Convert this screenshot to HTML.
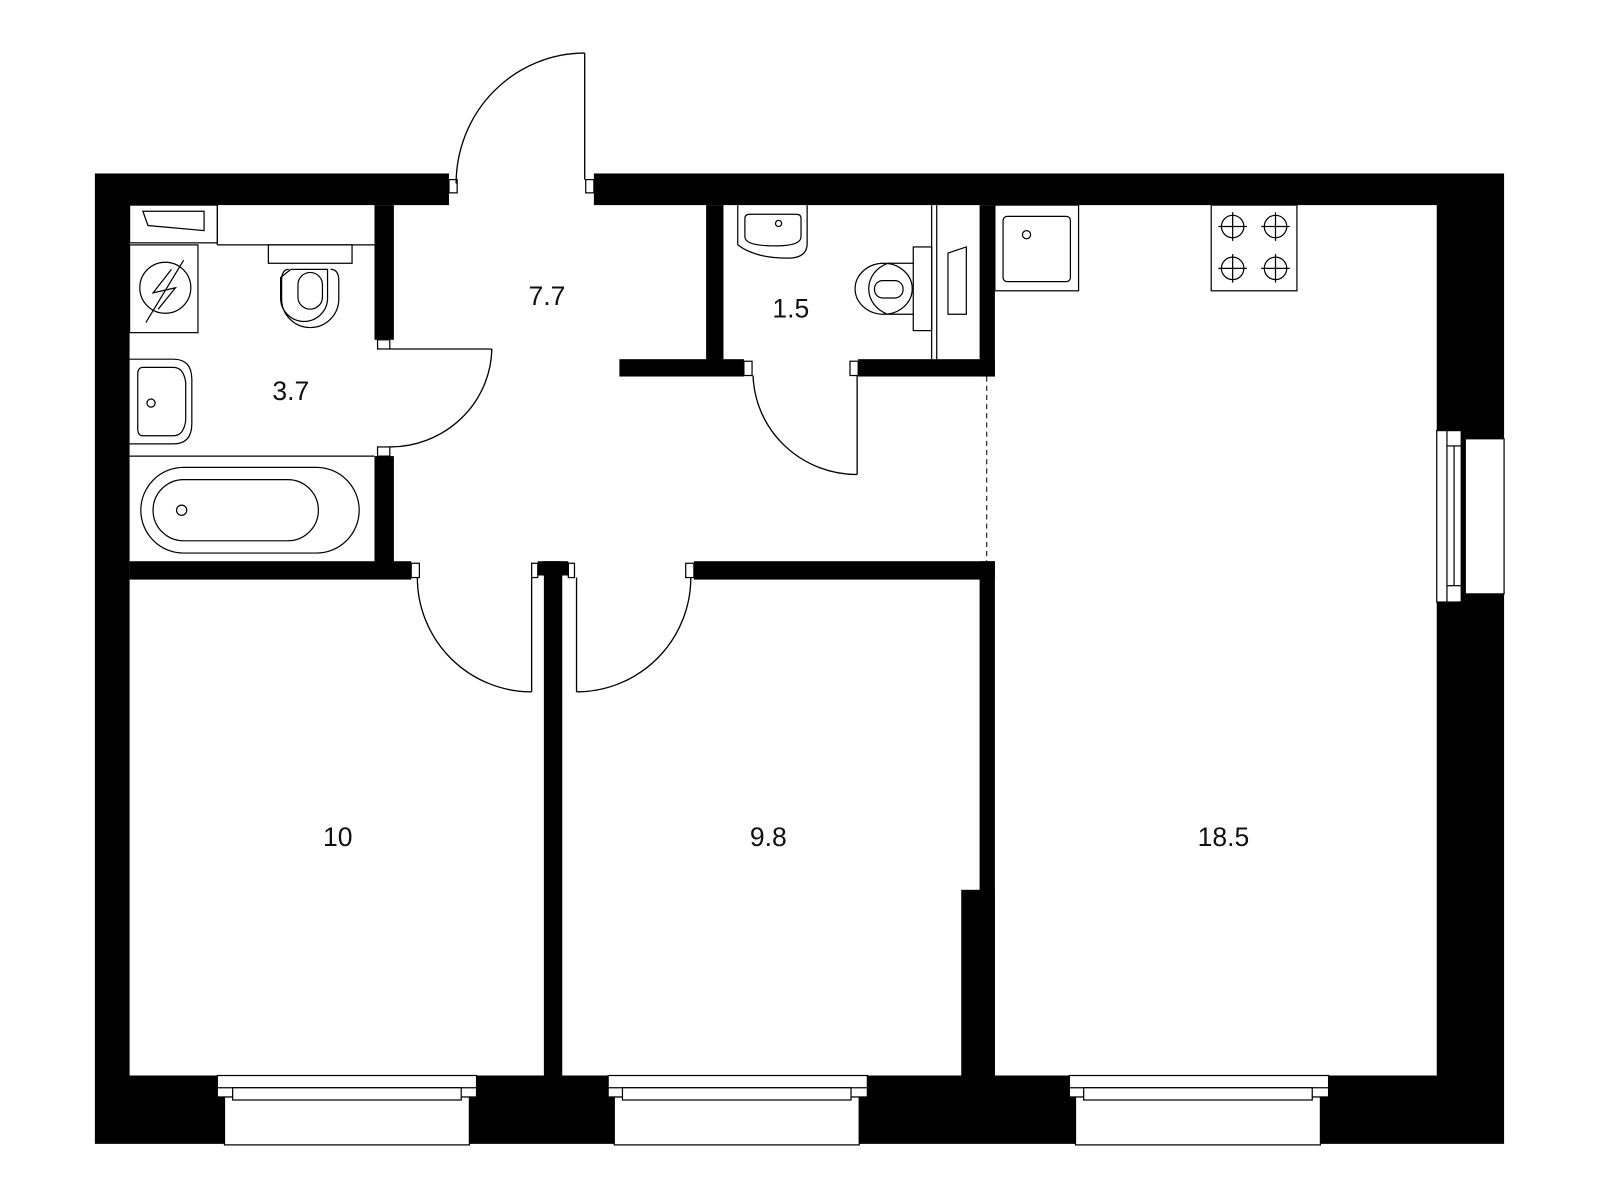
<!DOCTYPE html>
<html><head><meta charset="utf-8"><style>html,body{margin:0;padding:0;background:#fff}svg{display:block}</style></head>
<body>
<svg width="1600" height="1200" viewBox="0 0 1568 1176" xmlns="http://www.w3.org/2000/svg">
<g fill="#000">
<rect x="93" y="170" width="1381" height="951"/>
</g>
<rect x="127" y="201" width="1281" height="853" fill="#fff"/>
<rect x="440" y="168" width="142" height="34" fill="#fff"/>
<g fill="#000">
<rect x="367" y="201" width="19" height="132"/>
<rect x="367" y="447" width="19" height="105"/>
<rect x="127" y="550" width="276" height="18"/>
<rect x="533" y="550" width="18" height="504"/>
<rect x="680" y="550" width="295" height="18"/>
<rect x="960" y="550" width="15" height="504"/>
<rect x="942" y="872" width="33" height="182"/>
<rect x="692" y="201" width="17" height="154"/>
<rect x="607" y="352" width="122" height="17"/>
<rect x="841" y="352" width="134" height="17"/>
<rect x="960" y="201" width="15" height="168"/>
<rect x="527" y="550" width="30" height="14"/>
</g>
<g fill="#fff" stroke="#000" stroke-width="1.2">
<rect x="440" y="176" width="8" height="13"/>
<rect x="574" y="176" width="8" height="13"/>
<rect x="370" y="333" width="12" height="9"/>
<rect x="370" y="438" width="12" height="9"/>
<rect x="403" y="552" width="8" height="14"/>
<rect x="672" y="552" width="8" height="14"/>
<rect x="521" y="552" width="6" height="14"/>
<rect x="557" y="552" width="6" height="14"/>
<rect x="729" y="354" width="8" height="14"/>
<rect x="833" y="354" width="8" height="14"/>
</g>
<g fill="none" stroke="#000" stroke-width="1.3">
<line x1="573" y1="52" x2="573" y2="176"/>
<path d="M573 52 A126 128 0 0 0 447 180"/>
<line x1="382" y1="342" x2="482" y2="342"/>
<path d="M482 342 A100 98 0 0 1 382 438"/>
<line x1="840" y1="368" x2="840" y2="465"/>
<path d="M840 465 A102 100 0 0 1 738 368"/>
<line x1="521" y1="566" x2="521" y2="678"/>
<path d="M521 678 A112 112 0 0 1 409 566"/>
<line x1="565" y1="566" x2="565" y2="678"/>
<path d="M565 678 A112 112 0 0 0 677 566"/>
<line x1="967" y1="369" x2="967" y2="550" stroke-dasharray="5 4" stroke-width="1"/>
</g>
<g fill="#fff" stroke="#000" stroke-width="1.2">
<rect x="213" y="1054" width="254" height="21"/>
<rect x="220" y="1075" width="240" height="47"/>
<rect x="213" y="1066" width="254" height="9"/>
<rect x="228" y="1066" width="224" height="12"/>
<rect x="596" y="1054" width="254" height="21"/>
<rect x="602" y="1075" width="240" height="47"/>
<rect x="596" y="1066" width="254" height="9"/>
<rect x="610" y="1066" width="224" height="12"/>
<rect x="1048" y="1054" width="254" height="21"/>
<rect x="1054" y="1075" width="240" height="47"/>
<rect x="1048" y="1066" width="254" height="9"/>
<rect x="1062" y="1066" width="224" height="12"/>
<rect x="1436" y="430" width="38" height="152"/>
<rect x="1408" y="422" width="20" height="168"/>
<rect x="1418" y="422" width="14" height="168"/>
<line x1="1425" y1="437" x2="1425" y2="574"/>
<line x1="1418" y1="437" x2="1432" y2="437"/>
<line x1="1418" y1="574" x2="1432" y2="574"/>
</g>
<g fill="none" stroke="#000" stroke-width="1.2">
<rect x="127" y="201" width="86" height="37"/>
<path d="M140 207 H200 V226 L145 221 Z"/>
<line x1="213" y1="240" x2="367" y2="240"/>
<line x1="213" y1="201" x2="213" y2="240"/>
<rect x="127" y="240" width="67" height="86"/>
<circle cx="162" cy="282" r="25"/>
<path d="M180 255 L143 316 M168 264 L150 287 L172 282 L155 303"/>
<rect x="263" y="240" width="82" height="18"/>
<path d="M285 264 h36 v28 a23 23 0 0 1 -46 0 v-20 z"/>
<path d="M283 264 Q276 264 276 275 v18 a28 28 0 0 0 56 0 v-18 q0 -11 -8 -11" />
<rect x="292" y="267" width="24" height="36" rx="12"/>
<path d="M127 352 H170 Q188 352 188 372 V415 Q188 435 170 435 H127"/>
<path d="M140 360 H170 Q180 360 182 375 V412 Q180 427 170 427 H140 Q135 427 135 420 V367 Q135 360 140 360 Z"/>
<circle cx="148" cy="395" r="4"/>
<line x1="127" y1="447" x2="367" y2="447"/>
<rect x="138" y="458" width="214" height="84" rx="42"/>
<rect x="150" y="470" width="162" height="60" rx="30"/>
<circle cx="178" cy="500" r="5"/>
<path d="M723 201 V240 Q740 253 772 253 Q790 253 791 240 V201"/>
<path d="M730 214 Q730 210 735 210 H780 Q785 210 785 214 V232 Q785 241 760 241 Q730 241 730 232 Z"/>
<circle cx="763" cy="219" r="3"/>
<rect x="895" y="242" width="18" height="82"/>
<path d="M895 258 H870 A30 27 0 0 0 870 308 H895"/>
<ellipse cx="866" cy="283" rx="28" ry="25"/>
<rect x="857" y="275" width="28" height="17" rx="8"/>
<line x1="913" y1="201" x2="913" y2="352"/>
<line x1="918" y1="201" x2="918" y2="352"/>
<path d="M929 248 L947 242 V308 H929 Z"/>
<rect x="975" y="201" width="82" height="84"/>
<rect x="983" y="212" width="66" height="64" rx="4"/>
<circle cx="1006" cy="230" r="4"/>
<rect x="1187" y="201" width="84" height="84"/>
</g>
<g fill="none" stroke="#000" stroke-width="1.2">
<circle cx="1208" cy="222" r="11"/><path d="M1194 222h28M1208 208v28"/>
<circle cx="1250" cy="222" r="11"/><path d="M1236 222h28M1250 208v28"/>
<circle cx="1208" cy="263" r="11"/><path d="M1194 263h28M1208 249v28"/>
<circle cx="1250" cy="263" r="11"/><path d="M1236 263h28M1250 249v28"/>
</g>
<g font-family="Liberation Sans, sans-serif" font-size="26" text-anchor="middle" fill="#111">
<text x="536" y="299">7.7</text>
<text x="285" y="392">3.7</text>
<text x="775" y="311">1.5</text>
<text x="331" y="829">10</text>
<text x="753" y="829">9.8</text>
<text x="1199" y="829">18.5</text>
</g>
</svg>
</body></html>
